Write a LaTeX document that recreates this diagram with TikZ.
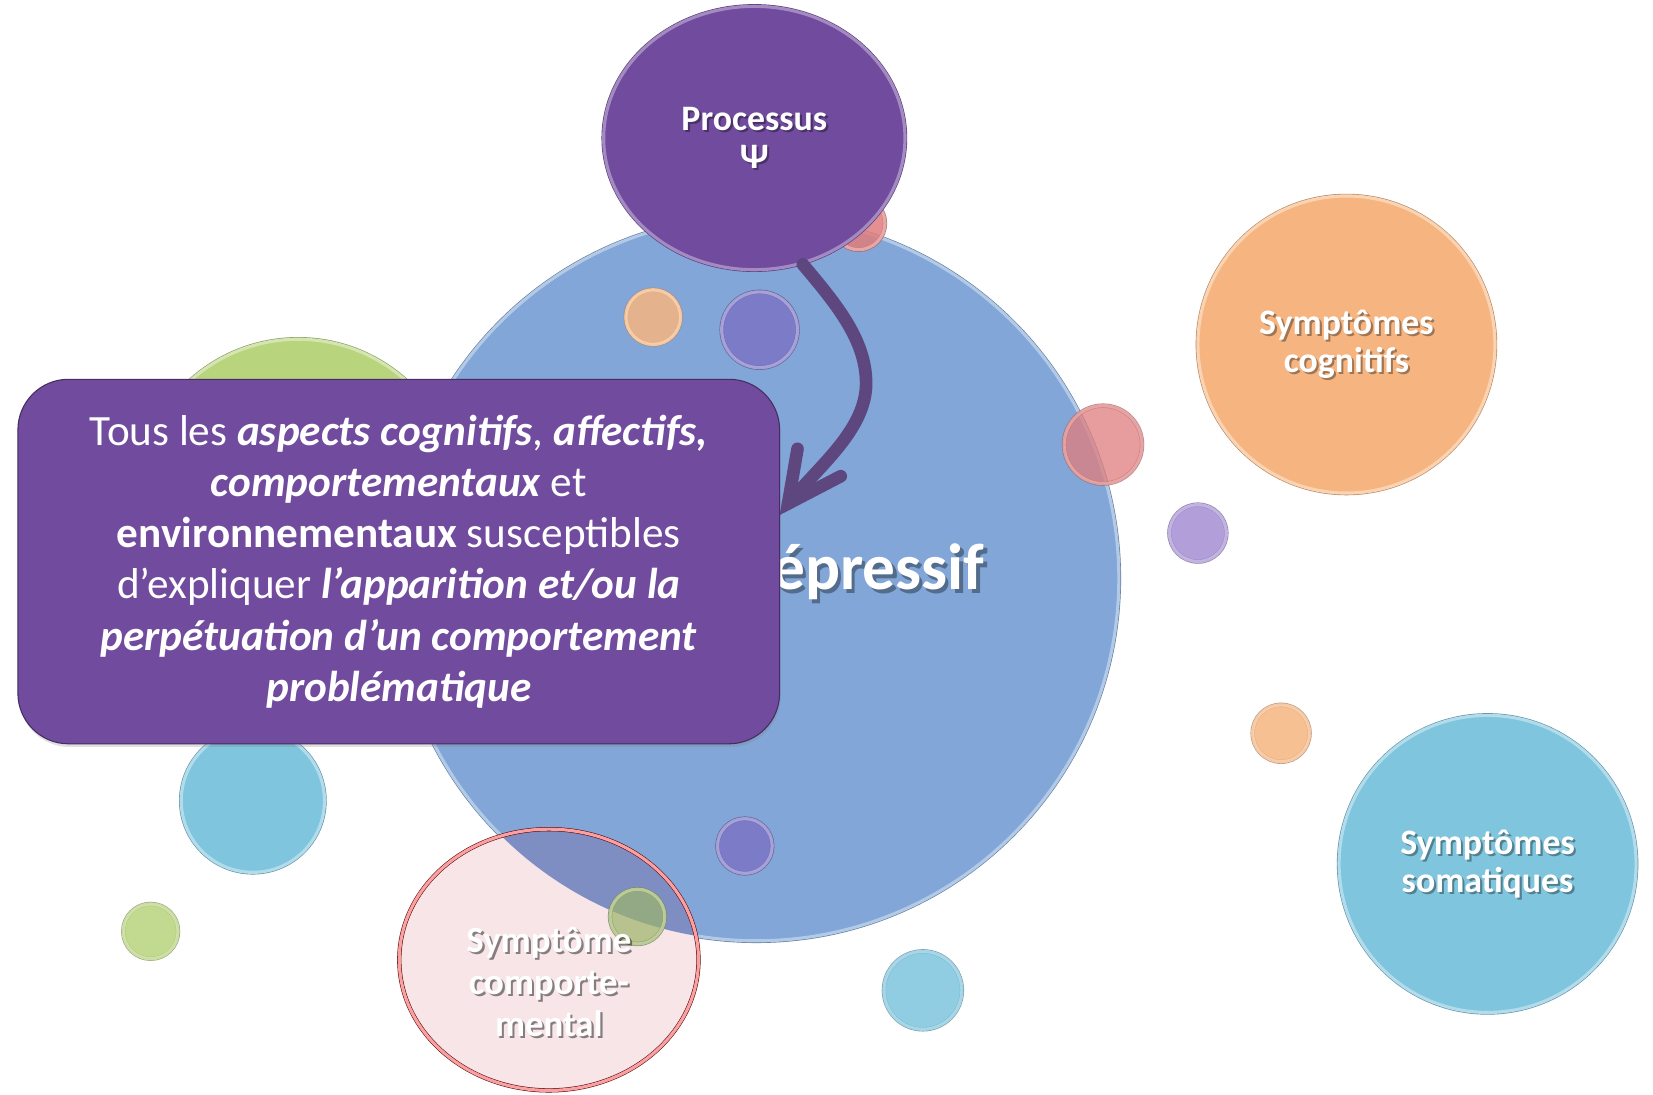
\documentclass[tikz,border=0pt]{standalone}
\usepackage{fontspec}
\setmainfont{Carlito}
\usetikzlibrary{shapes.geometric,shadows,calc}
\definecolor{blueC}{RGB}{129,166,215}
\definecolor{orangeC}{RGB}{246,181,128}
\definecolor{cyanC}{RGB}{126,197,221}
\definecolor{greenC}{RGB}{184,212,125}
\definecolor{redC}{RGB}{224,125,125}
\definecolor{purpC}{RGB}{113,75,158}
\definecolor{lavC}{RGB}{165,143,212}
\definecolor{violC}{RGB}{124,116,198}
\definecolor{pinkC}{RGB}{247,229,231}
\definecolor{mixC}{RGB}{127,142,194}
\definecolor{arrowC}{RGB}{94,70,126}
\newcommand\bisty[1]{\textbf{\textit{#1}}}
\begin{document}
\begin{tikzpicture}[x=1pt,y=-1pt,
  bub/.style={circle, inner sep=0pt, fill=#1, draw=#1!60!white, line width=3pt,
    preaction={draw=#1!75!black, line width=4.2pt}},
  sbub/.style={bub=#1, fill opacity=.85, draw opacity=.85},
  lbl/.style={text=white, font=\bfseries\fontsize{34}{36}\selectfont, align=center},
  lshd/.style={text=black, text opacity=.35, font=\bfseries\fontsize{34}{36}\selectfont, align=center},
]
\useasboundingbox[fill=white] (0,0) rectangle (1569,1039);

% background bubbles
\node[bub=greenC, minimum size=306pt] (gbig) at (283,475) {};
\node[bub=cyanC, minimum size=136pt] (cmid) at (240,760) {};
\node[bub=blueC, minimum size=688pt] (dep) at (718,549) {};
\node[sbub=redC, minimum size=50pt] (rtop) at (815,212) {};
\node[sbub=orangeC, minimum size=52pt] (osm1) at (620,301) {};
\node[sbub=violC, minimum size=72pt] (vsm1) at (721,313) {};
\node[bub=redC, minimum size=74pt, fill opacity=.75, draw opacity=.75] (rright) at (1047,422) {};
\node[sbub=lavC, minimum size=54pt] (lav) at (1137,506) {};
\node[sbub=orangeC, minimum size=54pt] (osm2) at (1216,696) {};
\node[sbub=greenC, minimum size=52pt] (gsm) at (143,884) {};
\node[sbub=violC, minimum size=52pt] (vsm2) at (707,803) {};
\node[sbub=cyanC, minimum size=74pt] (csm) at (876,940) {};

% big labelled bubbles
\node[bub=orangeC, minimum size=282pt] (cog) at (1278,327) {};
\node[lshd] at (1280,329) {Symptômes\\cognitifs};
\node[lbl] (coglbl) at (cog) {Symptômes\\cognitifs};
\node[bub=cyanC, minimum size=282pt] (som) at (1412,820) {};
\node[lshd] at (1414,822) {Symptômes\\somatiques};
\node[lbl] (somlbl) at (som) {Symptômes\\somatiques};

% pink ellipse
\node[ellipse, inner sep=0pt, minimum width=284pt, minimum height=248pt, fill=pinkC] (comp) at (521,911) {};
\begin{scope}
  \clip (718,549) circle[radius=344pt];
  \fill[mixC] (521,911) ellipse[x radius=142pt, y radius=124pt];
\end{scope}
\draw[draw=pinkC!70!red, line width=3pt, preaction={draw=red!35!black, line width=4pt}] (521,911) ellipse[x radius=142pt, y radius=124pt];
\node[sbub=greenC!85!black, minimum size=52pt, fill opacity=.7] (gpink) at (605,870) {};
\node[lshd, font=\bfseries\fontsize{35}{40}\selectfont, text opacity=.45] at (523,934) {Symptôme\\comporte-\\mental};
\node[lbl, font=\bfseries\fontsize{35}{40}\selectfont] (complbl) at (521,932) {Symptôme\\comporte-\\mental};

% big text
\node[anchor=base west, text=black, text opacity=.35, font=\bfseries\fontsize{62}{70}\selectfont, inner sep=0pt] at (736,563) {épressif};
\node[anchor=base west, text=white, font=\bfseries\fontsize{62}{70}\selectfont, inner sep=0pt] (deplbl) at (733,560) {épressif};

% explanation box
\node[draw=purpC!60!black, line width=1pt, fill=purpC, rounded corners=48pt,
  minimum width=723pt, minimum height=346pt, inner sep=0pt,
  drop shadow={opacity=.25, shadow xshift=1pt, shadow yshift=-3pt},
  text=white, align=center, font=\fontsize{41}{48.6}\selectfont] (box) at (378.5,533)
  {Tous les \bisty{aspects cognitifs}, \bisty{affectifs,}\\
   \bisty{comportementaux} et\\
   \textbf{environnementaux} susceptibles\\
   d’expliquer \bisty{l’apparition et/ou la}\\
   \bisty{perpétuation d’un comportement}\\
   \bisty{problématique}};

% Processus
\node[ellipse, inner sep=0pt, minimum width=286pt, minimum height=250pt, fill=purpC,
  draw=purpC!65!white, line width=3pt, preaction={draw=purpC!80!black, line width=4.2pt}] (proc) at (716,131) {};
\node[lshd] at (718,133) {Processus\\Ψ};
\node[lbl] (proclbl) at (proc) {Processus\\Ψ};

% arrow
\coordinate (tip) at (748,478);
\coordinate (barbA) at (757,426);
\coordinate (barbB) at (798,452);
\draw[arrowC, line width=12pt, line cap=round] (proc.-69) .. controls (795,290) and (824,325) .. (822,368) .. controls (819,410) and (778,442) .. (tip);
\draw[arrowC, line width=12pt, line cap=round, line join=miter] (barbA) -- (tip) -- (barbB);
\end{tikzpicture}
\end{document}
